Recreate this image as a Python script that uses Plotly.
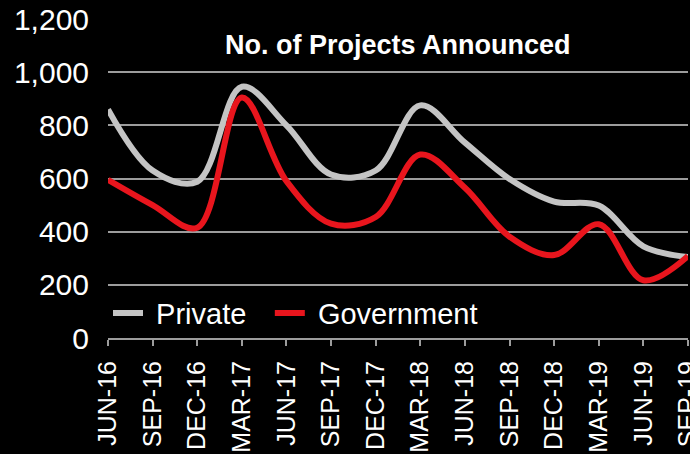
import plotly.graph_objects as go

# Quarterly project announcements
quarters = ["JUN-16", "SEP-16", "DEC-16", "MAR-17", "JUN-17", "SEP-17", "DEC-17",
            "MAR-18", "JUN-18", "SEP-18", "DEC-18", "MAR-19", "JUN-19", "SEP-19"]
private = [860, 630, 588, 945, 800, 615, 630, 875, 735, 598, 513, 498, 345, 305]
government = [595, 500, 415, 905, 590, 430, 455, 690, 565, 381, 312, 428, 217, 308]

y_ticks = [0, 200, 400, 600, 800, 1000, 1200]
y_labels = ["0", "200", "400", "600", "800", "1,000", "1,200"]

GREY = "#c4c4c4"
RED = "#e8151d"
GRID = "#9c9c9c"
FONT = "Liberation Sans"
NBSP = "\u00a0"

x = list(range(len(quarters)))

fig = go.Figure()
fig.add_trace(go.Scatter(
    x=x, y=private, name=NBSP + "Private", mode="lines",
    line=dict(color=GREY, width=6, shape="spline", smoothing=1.0),
    cliponaxis=False, legend="legend",
))
fig.add_trace(go.Scatter(
    x=x, y=government, name=NBSP + "Government", mode="lines",
    line=dict(color=RED, width=6, shape="spline", smoothing=1.0),
    cliponaxis=False, legend="legend2",
))

fig.add_annotation(
    text="<b>No. of Projects Announced</b>",
    xref="paper", yref="paper", x=0.5, y=0.92,
    xanchor="center", yanchor="middle", showarrow=False,
    font=dict(family=FONT, size=27, color="white"),
)

legend_style = dict(
    orientation="h", y=0.078, xanchor="left", yanchor="middle",
    bgcolor="rgba(0,0,0,0)",
    font=dict(family=FONT, size=29, color="white"),
)

fig.update_layout(
    width=690, height=454,
    margin=dict(l=108, r=2, t=19, b=116),
    paper_bgcolor="black", plot_bgcolor="black",
    font=dict(family=FONT, color="white"),
    showlegend=True,
    legend=dict(x=0, **legend_style),
    legend2=dict(x=0.279, **legend_style),
    xaxis=dict(
        range=[0, 13], tickmode="array", tickvals=x, ticktext=quarters,
        tickangle=-90, tickfont=dict(family=FONT, size=25, color="white"),
        showgrid=False, zeroline=False,
        showline=True, linecolor=GRID, linewidth=2,
        ticks="outside", ticklen=6, tickwidth=2, tickcolor=GRID,
        ticklabelstandoff=5, ticklabeloverflow="allow",
        automargin=False,
    ),
    yaxis=dict(
        range=[0, 1200], tickmode="array", tickvals=y_ticks, ticktext=y_labels,
        tickfont=dict(family=FONT, size=30, color="white"),
        showgrid=True, gridcolor=GRID, gridwidth=2,
        zeroline=False, showline=False, ticks="",
        ticklabelstandoff=18, automargin=False,
    ),
)

fig.write_html("out.html")
